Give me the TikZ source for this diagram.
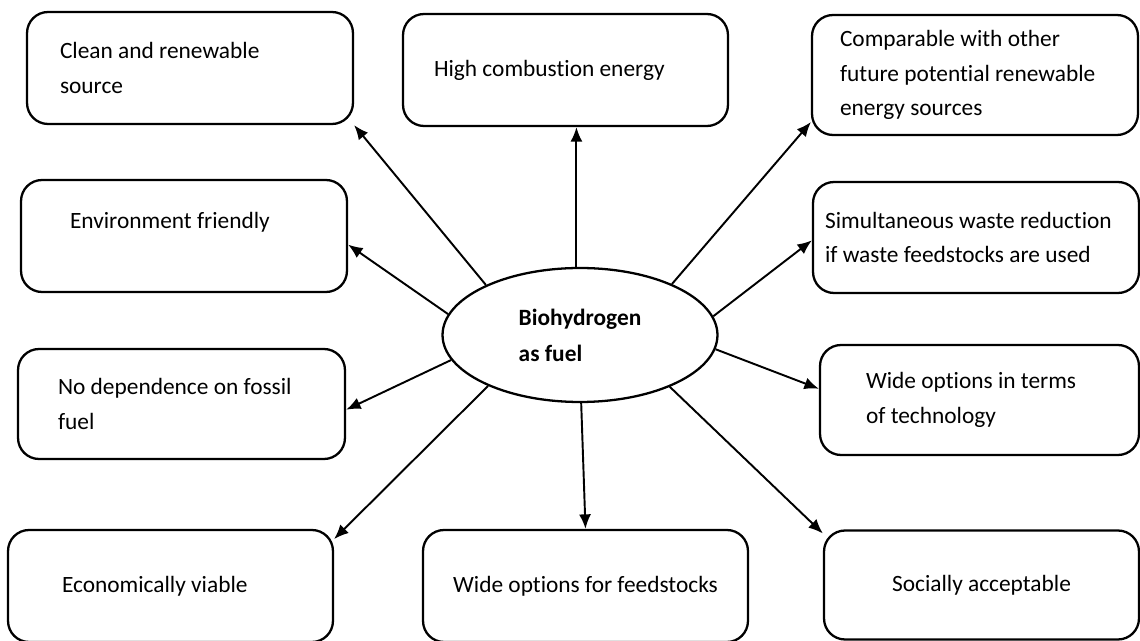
\documentclass[tikz,border=0pt]{standalone}
\usepackage{fontspec}
\setmainfont[Ligatures=NoCommon]{Carlito}
\usetikzlibrary{
  positioning,
  shapes.geometric,
  arrows.meta,
  calc
}

\begin{document}
\begin{tikzpicture}[
  x=0.02cm, y=-0.02cm,
  every node/.style={font=\fontsize{13.3}{19.5}\selectfont},
  card/.style={rectangle, draw=black, line width=1.3pt, rounded corners=0.42cm, minimum height=2.24cm, align=flush left},
  hub/.style={ellipse, draw=black, line width=1.3pt, minimum width=5.5cm, minimum height=2.68cm, align=flush left, inner sep=0pt},
  arrow/.style={line width=1.1pt, -{Latex[length=2.9mm, width=2.4mm]}}
]
\useasboundingbox (0,0) rectangle (1140,641);

\node[hub, font=\fontsize{13.3}{20.5}\selectfont\bfseries] (bio) at (580,335) {Biohydrogen\\as fuel};

\node[card, minimum width=6.52cm, text width=5.2cm, inner xsep=0.66cm] (clean) at (190,68) {Clean and renewable\\source};
\node[card, minimum width=6.5cm, text width=5.26cm, inner xsep=0.62cm] (combust) at (565.5,70) {High combustion energy};
\node[card, minimum width=6.52cm, minimum height=2.4cm, text width=5.4cm, inner xsep=0.56cm] (compare) at (975,75) {Comparable with other\\future potential renewable\\energy sources};
\node[card, minimum width=6.52cm, text width=4.56cm, inner xsep=0.98cm, text depth=0.64cm] (environ) at (184,236) {Environment friendly};
\node[card, minimum width=6.52cm, minimum height=2.22cm, text width=6.04cm, inner xsep=0.24cm] (waste) at (976,237.5) {Simultaneous waste reduction\\if waste feedstocks are used};
\node[card, minimum width=6.54cm, minimum height=2.2cm, text width=4.94cm, inner xsep=0.8cm] (fossil) at (181.5,404) {No dependence on fossil\\fuel};
\node[card, minimum width=6.38cm, minimum height=2.2cm, text width=4.54cm, inner xsep=0.92cm] (techno) at (979.5,400) {Wide options in terms\\of technology};
\node[card, minimum width=6.5cm, text width=4.34cm, inner xsep=1.08cm] (econ) at (170.5,586) {Economically viable};
\node[card, minimum width=6.5cm, align=flush center, text width=6cm] (feed) at (585.5,586) {Wide options for feedstocks};
\node[card, minimum width=6.3cm, minimum height=2.18cm, align=flush center, text width=5.8cm] (social) at (981.5,585) {Socially acceptable};

% Arrows
\draw[arrow] (bio.152) -- (clean.south east);
\draw[arrow] (bio.93.4) -- (bio.93.4 |- combust.south);
\draw[arrow] (bio.29.5) -- (compare.196);
\draw[arrow] (bio.171.3) -- (environ.357.6);
\draw[arrow] (bio.8.6) -- (waste.181.6);
\draw[arrow] (bio.191.9) -- (fossil.358.2);
\draw[arrow] (bio.354.6) -- (techno.176.5);
\draw[arrow] (bio.209.7) -- (econ.16.6);
\draw[arrow] (bio.271.7) -- (feed.north);
\draw[arrow] (bio.330) -- (social.162.7);

\end{tikzpicture}
\end{document}
